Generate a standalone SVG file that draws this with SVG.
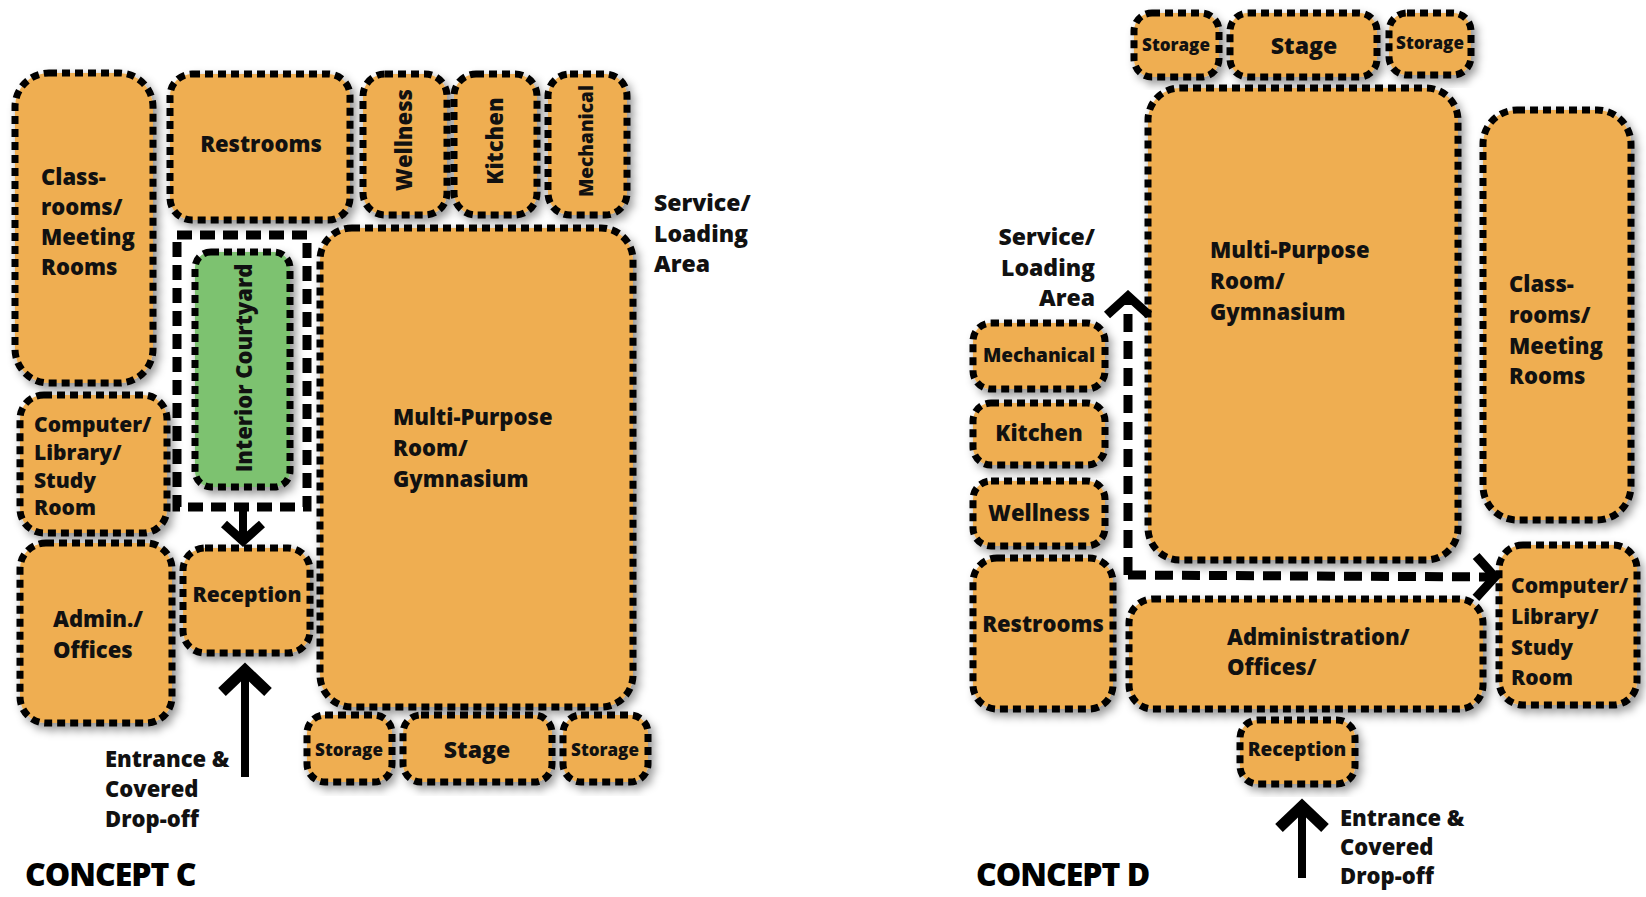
<svg xmlns="http://www.w3.org/2000/svg" width="1646" height="897" viewBox="0 0 1646 897">
<defs>
<filter id="sh" x="-20%" y="-20%" width="140%" height="140%">
<feDropShadow dx="4" dy="5" stdDeviation="4" flood-color="#000" flood-opacity="0.4"/>
</filter>
<marker id="chev" viewBox="0 0 30 50" refX="24" refY="25" markerWidth="30" markerHeight="50" markerUnits="userSpaceOnUse" orient="auto">
<path d="M5,4 L24,25 L5,46" fill="none" stroke="#000" stroke-width="9" stroke-dasharray="none"/>
</marker>
<style>
.node{fill:#EFAE51;stroke:#000;stroke-width:7;stroke-dasharray:8 5;filter:url(#sh)}
.green{fill:#7DC26F}
.court{fill:none;stroke:#000;stroke-width:9;stroke-dasharray:15 8}
.lbl{font-family:'Open Sans','Noto Sans','DejaVu Sans',sans-serif;font-weight:800;font-size:22px;fill:#111}
.sm{font-size:17px}
.md{font-size:19px}
.big{font-size:23px}
.title{font-family:'Open Sans','Noto Sans','DejaVu Sans',sans-serif;font-weight:800;font-size:32px;fill:#000;letter-spacing:-1px}
.mid{text-anchor:middle}
.end{text-anchor:end}
.dash{fill:none;stroke:#000;stroke-width:9;stroke-dasharray:18 9}
.solid{fill:none;stroke:#000;stroke-width:8}
.head{fill:none;stroke:#000;stroke-width:11;stroke-linejoin:miter}
</style>
</defs>
<rect width="1646" height="897" fill="#fff"/>

<!-- CONCEPT C -->
<g id="classroomsC">
<rect class="node" x="15" y="73" width="138" height="310" rx="34"/>
<text class="lbl" x="41"><tspan x="41" y="185">Class-</tspan><tspan x="41" y="215">rooms/</tspan><tspan x="41" y="245">Meeting</tspan><tspan x="41" y="275">Rooms</tspan></text>
</g>
<g id="restroomsC">
<rect class="node" x="170" y="74" width="180" height="146" rx="22"/>
<text class="lbl mid" x="261" y="152">Restrooms</text>
</g>
<g id="wellnessC">
<rect class="node" x="363" y="74" width="84" height="141" rx="22"/>
<text class="lbl mid" transform="translate(404,140) rotate(-90)" y="8">Wellness</text>
</g>
<g id="kitchenC">
<rect class="node" x="454" y="74" width="83" height="141" rx="22"/>
<text class="lbl mid" transform="translate(495,141) rotate(-90)" y="8">Kitchen</text>
</g>
<g id="mechanicalC">
<rect class="node" x="548" y="74" width="79" height="141" rx="22"/>
<text class="lbl md mid" transform="translate(586,141) rotate(-90)" y="7">Mechanical</text>
</g>
<g id="serviceC">
<text class="lbl big" x="654"><tspan x="654" y="211">Service/</tspan><tspan x="654" y="242">Loading</tspan><tspan x="654" y="272">Area</tspan></text>
</g>
<g id="gymC">
<rect class="node" x="320" y="228" width="313" height="479" rx="32"/>
<text class="lbl" x="393"><tspan x="393" y="425">Multi-Purpose</tspan><tspan x="393" y="456">Room/</tspan><tspan x="393" y="487">Gymnasium</tspan></text>
</g>
<g id="courtyardC">
<rect class="court" x="177" y="235" width="130" height="272"/>
<rect class="node green" x="195" y="252" width="95" height="235" rx="16"/>
<text class="lbl mid" transform="translate(244,368) rotate(-90)" y="8">Interior Courtyard</text>
</g>
<g id="computerC">
<rect class="node" x="20" y="395" width="147" height="138" rx="24"/>
<text class="lbl" style="font-size:21px" x="34"><tspan x="34" y="432">Computer/</tspan><tspan x="34" y="460">Library/</tspan><tspan x="34" y="488">Study</tspan><tspan x="34" y="515">Room</tspan></text>
</g>
<g id="adminC">
<rect class="node" x="20" y="543" width="152" height="180" rx="26"/>
<text class="lbl" x="53"><tspan x="53" y="627">Admin./</tspan><tspan x="53" y="658">Offices</tspan></text>
</g>
<g id="receptionC">
<rect class="node" x="183" y="548" width="127" height="105" rx="22"/>
<text class="lbl mid" style="font-size:21px" x="247" y="602">Reception</text>
</g>
<g id="storage1C">
<rect class="node" x="307" y="715" width="85" height="67" rx="18"/>
<text class="lbl sm mid" x="349" y="756">Storage</text>
</g>
<g id="stageC">
<rect class="node" x="403" y="715" width="149" height="67" rx="18"/>
<text class="lbl big mid" x="477" y="758">Stage</text>
</g>
<g id="storage2C">
<rect class="node" x="563" y="715" width="85" height="67" rx="18"/>
<text class="lbl sm mid" x="605" y="756">Storage</text>
</g>
<g id="entranceC">
<text class="lbl" x="105"><tspan x="105" y="767">Entrance &amp;</tspan><tspan x="105" y="797">Covered</tspan><tspan x="105" y="827">Drop-off</tspan></text>
</g>
<text class="title" x="25" y="886">CONCEPT C</text>

<!-- CONCEPT D -->
<g id="storage1D">
<rect class="node" x="1134" y="13" width="85" height="64" rx="18"/>
<text class="lbl sm mid" x="1176" y="51">Storage</text>
</g>
<g id="stageD">
<rect class="node" x="1230" y="13" width="147" height="64" rx="18"/>
<text class="lbl big mid" x="1304" y="54">Stage</text>
</g>
<g id="storage2D">
<rect class="node" x="1389" y="13" width="82" height="62" rx="18"/>
<text class="lbl sm mid" x="1430" y="49">Storage</text>
</g>
<g id="gymD">
<rect class="node" x="1148" y="88" width="310" height="472" rx="32"/>
<text class="lbl" x="1210"><tspan x="1210" y="258">Multi-Purpose</tspan><tspan x="1210" y="289">Room/</tspan><tspan x="1210" y="320">Gymnasium</tspan></text>
</g>
<g id="classroomsD">
<rect class="node" x="1483" y="110" width="148" height="410" rx="34"/>
<text class="lbl" x="1509"><tspan x="1509" y="292">Class-</tspan><tspan x="1509" y="323">rooms/</tspan><tspan x="1509" y="354">Meeting</tspan><tspan x="1509" y="384">Rooms</tspan></text>
</g>
<g id="computerD">
<rect class="node" x="1499" y="545" width="138" height="160" rx="24"/>
<text class="lbl" style="font-size:21px" x="1511"><tspan x="1511" y="593">Computer/</tspan><tspan x="1511" y="624">Library/</tspan><tspan x="1511" y="655">Study</tspan><tspan x="1511" y="685">Room</tspan></text>
</g>
<g id="serviceD">
<text class="lbl big end" x="1095"><tspan x="1095" y="245">Service/</tspan><tspan x="1095" y="276">Loading</tspan><tspan x="1095" y="306">Area</tspan></text>
</g>
<g id="mechanicalD">
<rect class="node" x="973" y="323" width="132" height="66" rx="18"/>
<text class="lbl md mid" x="1039" y="362">Mechanical</text>
</g>
<g id="kitchenD">
<rect class="node" x="973" y="403" width="132" height="62" rx="18"/>
<text class="lbl mid" x="1039" y="441">Kitchen</text>
</g>
<g id="wellnessD">
<rect class="node" x="973" y="481" width="132" height="65" rx="18"/>
<text class="lbl mid" x="1039" y="521">Wellness</text>
</g>
<g id="restroomsD">
<rect class="node" x="973" y="558" width="140" height="151" rx="24"/>
<text class="lbl mid" x="1043" y="632">Restrooms</text>
</g>
<g id="adminD">
<rect class="node" x="1129" y="599" width="354" height="110" rx="24"/>
<text class="lbl" x="1227"><tspan x="1227" y="645">Administration/</tspan><tspan x="1227" y="675">Offices/</tspan></text>
</g>
<g id="receptionD">
<rect class="node" x="1240" y="720" width="115" height="64" rx="18"/>
<text class="lbl md mid" x="1297" y="756">Reception</text>
</g>
<g id="entranceD">
<text class="lbl" x="1340"><tspan x="1340" y="826">Entrance &amp;</tspan><tspan x="1340" y="855">Covered</tspan><tspan x="1340" y="884">Drop-off</tspan></text>
</g>
<text class="title" x="976" y="886">CONCEPT D</text>

<!-- connectors -->
<g id="connectors">
<line class="solid" x1="243" y1="507" x2="243" y2="540"/>
<polyline class="head" style="stroke-width:9" points="224,524 243,541 262,524"/>
<line class="solid" x1="245" y1="668" x2="245" y2="777"/>
<polyline class="head" points="222,692 245,670 268,692"/>
<path class="dash" d="M1128,575 L1128,296" marker-end="url(#chev)"/>
<path class="dash" d="M1128,575 L1495,577" marker-end="url(#chev)"/>
<line class="solid" x1="1302" y1="806" x2="1302" y2="878"/>
<polyline class="head" points="1279,828 1302,806 1325,828"/>
</g>
</svg>
